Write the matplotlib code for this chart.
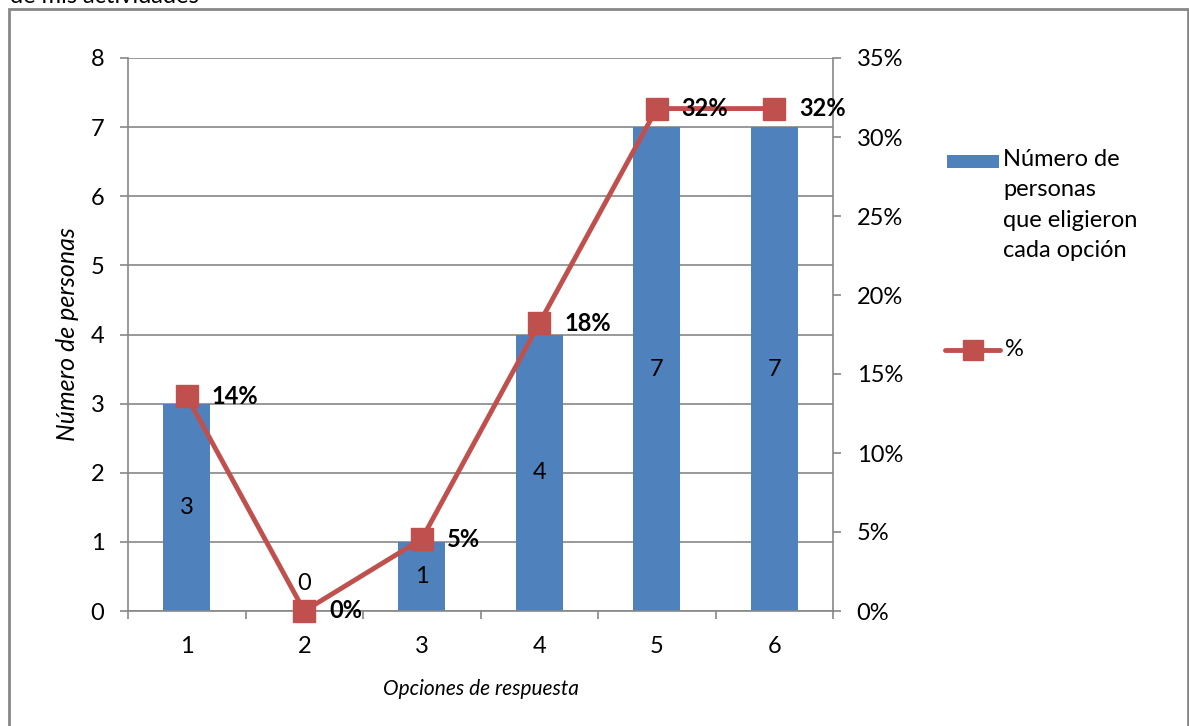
import matplotlib.pyplot as plt
from matplotlib.patches import Rectangle
from matplotlib.lines import Line2D
import numpy as np

plt.rcParams['font.family'] = ['Lato', 'DejaVu Sans']

# datos de la encuesta
opciones = ['1', '2', '3', '4', '5', '6']
personas = [3, 0, 1, 4, 7, 7]
porcentajes = [0.136, 0.0, 0.0455, 0.182, 0.318, 0.318]

azul = '#4F81BD'
rojo = '#C0504D'
gris = '#878787'

W, H = 1189, 726
fig = plt.figure(figsize=(W / 100, H / 100), dpi=100)

# marco exterior del gráfico
fig.patches.append(Rectangle((9 / W, -0.05), 1179 / W, 1.05 - 9 / H, transform=fig.transFigure,
                             fill=False, edgecolor=gris, linewidth=2))
fig.text(10 / W, 1 - 3 / H, 'de mis actividades', fontsize=17, va='baseline', ha='left')

ax = fig.add_axes([128 / W, 1 - 611 / H, 705 / W, 553 / H])
x = np.arange(len(opciones))

ax.bar(x, personas, width=0.4, color=azul, zorder=2)
ax.set_xlim(-0.5, len(opciones) - 0.5)
ax.set_ylim(0, 8)
ax.set_yticks(range(0, 9))
ax.grid(axis='y', color=gris, linewidth=1.2, zorder=0)
ax.set_xticks(x)
ax.set_xticklabels(opciones)
ax.set_xticks(np.arange(-0.5, len(opciones)), minor=True)
ax.tick_params(axis='x', which='major', length=0, pad=18, labelsize=17)
ax.tick_params(axis='x', which='minor', length=6, color=gris, width=1.2)
ax.tick_params(axis='y', length=6, color=gris, width=1.2, labelsize=17, pad=11)
for s in ['top', 'right']:
    ax.spines[s].set_visible(False)
for s in ['left', 'bottom']:
    ax.spines[s].set_color(gris)
    ax.spines[s].set_linewidth(1.2)

ax.set_xlabel('Opciones de respuesta', fontsize=15, style='italic', labelpad=16)
ax.set_ylabel('Número de personas', fontsize=18, style='italic', labelpad=8)

# etiquetas de las barras
for xi, v in zip(x, personas):
    if v > 0:
        ax.text(xi, v / 2, str(v), ha='center', va='center', fontsize=17, zorder=3)
    else:
        ax.text(xi, 0.4, str(v), ha='center', va='center', fontsize=17, zorder=3)

# eje secundario con el porcentaje
ax2 = ax.twinx()
ax2.plot(x, porcentajes, color=rojo, linewidth=3.5, marker='s', markersize=16,
         markerfacecolor=rojo, markeredgecolor=rojo, zorder=4, clip_on=False)
ax2.set_ylim(0, 0.35)
ticks_pct = np.arange(0, 0.36, 0.05)
ax2.set_yticks(ticks_pct)
ax2.set_yticklabels([f'{int(round(t * 100))}%' for t in ticks_pct])
ax2.tick_params(axis='y', length=6, color=gris, width=1.2, labelsize=17, pad=11)
for s in ['top', 'left', 'bottom']:
    ax2.spines[s].set_visible(False)
ax2.spines['right'].set_color(gris)
ax2.spines['right'].set_linewidth(1.2)

for xi, p in zip(x, porcentajes):
    ax2.annotate(f'{p * 100:.0f}%', (xi, p), xytext=(18, 0), textcoords='offset points',
                 ha='left', va='center', fontsize=17, fontweight='bold', zorder=5,
                 annotation_clip=False)

# leyenda
fig.patches.append(Rectangle((947 / W, 1 - 168 / H), 52 / W, 13 / H, transform=fig.transFigure,
                             facecolor=azul, edgecolor='none'))
fig.text(1003 / W, 1 - 149 / H, 'Número de\npersonas\nque eligieron\ncada opción',
         fontsize=17, va='top', ha='left', linespacing=1.55)
fig.lines.append(Line2D([945 / W, 1000 / W], [1 - 350 / H, 1 - 350 / H], transform=fig.transFigure,
                        color=rojo, linewidth=3.5, solid_capstyle='round'))
fig.lines.append(Line2D([972.5 / W], [1 - 350 / H], transform=fig.transFigure,
                        color=rojo, marker='s', markersize=14, linestyle='none'))
fig.text(1005 / W, 1 - 350 / H, '%', fontsize=17, va='center', ha='left')

fig.savefig('out.png', dpi=100)
